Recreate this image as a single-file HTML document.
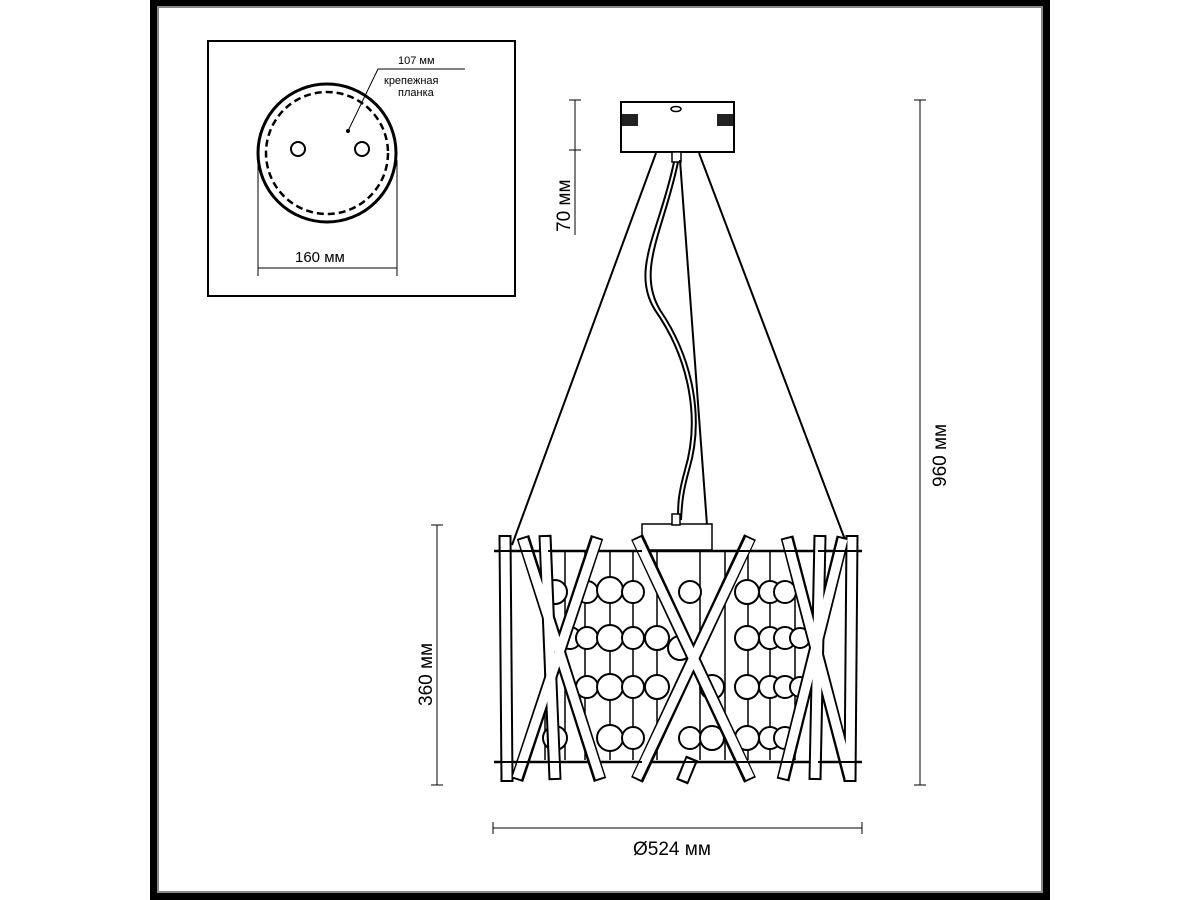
<!DOCTYPE html>
<html><head><meta charset="utf-8"><style>
html,body{margin:0;padding:0;background:#fff;}
svg{display:block;}
text{font-family:"Liberation Sans",sans-serif;fill:#000;}
</style></head><body>
<svg width="1200" height="900" viewBox="0 0 1200 900">
<rect x="0" y="0" width="1200" height="900" fill="#fff"/>
<rect x="150" y="0" width="900" height="900" fill="#000"/>
<rect x="157" y="6" width="886" height="887" fill="#888"/>
<rect x="159" y="8" width="882" height="883" fill="#fff"/>

<!-- inset -->
<rect x="208" y="41" width="307" height="255" fill="none" stroke="#000" stroke-width="2"/>
<circle cx="327" cy="153" r="69" fill="none" stroke="#000" stroke-width="3"/>
<circle cx="327" cy="153" r="61" fill="none" stroke="#000" stroke-width="2.5" stroke-dasharray="7,4"/>
<circle cx="298" cy="149" r="7" fill="none" stroke="#000" stroke-width="2"/>
<circle cx="362" cy="149" r="7" fill="none" stroke="#000" stroke-width="2"/>
<circle cx="348" cy="131" r="2" fill="#000"/>
<polyline points="348,131 378,69 465,69" fill="none" stroke="#000" stroke-width="1"/>
<text x="398" y="64" font-size="11">107 мм</text>
<text x="384" y="84" font-size="11">крепежная</text>
<text x="398" y="96" font-size="11">планка</text>
<line x1="258" y1="160" x2="258" y2="276" stroke="#000" stroke-width="1"/>
<line x1="397" y1="160" x2="397" y2="276" stroke="#000" stroke-width="1"/>
<line x1="258" y1="268" x2="397" y2="268" stroke="#000" stroke-width="1"/>
<text x="295" y="262" font-size="15">160 мм</text>

<!-- dimensions -->
<g stroke="#000" stroke-width="1">
<line x1="575" y1="100" x2="575" y2="235"/><line x1="569" y1="100" x2="581" y2="100"/><line x1="569" y1="150" x2="581" y2="150"/>
<line x1="920" y1="100" x2="920" y2="785"/><line x1="914" y1="100" x2="926" y2="100"/><line x1="914" y1="785" x2="926" y2="785"/>
<line x1="437" y1="525" x2="437" y2="785"/><line x1="431" y1="525" x2="443" y2="525"/><line x1="431" y1="785" x2="443" y2="785"/>
<line x1="493" y1="828" x2="862" y2="828"/><line x1="493" y1="822" x2="493" y2="834"/><line x1="862" y1="822" x2="862" y2="834"/>
</g>
<text font-size="19" transform="translate(570,232) rotate(-90)">70 мм</text>
<text font-size="19" transform="translate(946,487) rotate(-90)">960 мм</text>
<text font-size="19" transform="translate(432,706) rotate(-90)">360 мм</text>
<text x="633" y="855" font-size="19">Ø524 мм</text>

<!-- canopy -->
<rect x="621" y="102" width="113" height="50" fill="#fff" stroke="#000" stroke-width="2"/>
<ellipse cx="676" cy="109" rx="5" ry="2.5" fill="none" stroke="#000" stroke-width="1.5"/>
<rect x="622" y="114" width="16" height="12" fill="#222"/>
<rect x="717" y="114" width="16" height="12" fill="#222"/>
<rect x="672" y="152" width="9" height="10" fill="#fff" stroke="#000" stroke-width="1.5"/>
<g stroke="#000" stroke-width="2" fill="none">
<line x1="656" y1="153" x2="512" y2="545"/>
<line x1="699" y1="153" x2="847" y2="545"/>
<line x1="680" y1="160" x2="707" y2="525"/>
<path d="M674,162 C660,230 630,270 655,310 C690,360 700,420 685,470 C678,495 678,505 678,520"/>
<path d="M678,162 C664,230 636,270 660,310 C694,360 704,420 689,470 C682,495 682,505 681,520"/>
</g>

<!-- body -->
<g stroke="#000" fill="none">
<rect x="642" y="524" width="70" height="26" fill="#fff" stroke-width="1.5"/>
<rect x="672" y="514" width="8" height="11" fill="#fff" stroke-width="1.5"/>
<g stroke-width="1.5">
<line x1="545" y1="552" x2="545" y2="760"/><line x1="565" y1="552" x2="565" y2="760"/>
<line x1="585" y1="552" x2="585" y2="760"/><line x1="610" y1="552" x2="610" y2="760"/>
<line x1="633" y1="552" x2="633" y2="760"/><line x1="657" y1="552" x2="657" y2="760"/>
<line x1="700" y1="552" x2="700" y2="760"/><line x1="725" y1="552" x2="725" y2="760"/>
<line x1="748" y1="552" x2="748" y2="760"/><line x1="770" y1="552" x2="770" y2="760"/>
<line x1="795" y1="552" x2="795" y2="760"/><line x1="815" y1="552" x2="815" y2="760"/>
</g>
<g stroke-width="2" fill="#fff">
<circle cx="555" cy="592" r="12"/><circle cx="587" cy="592" r="11"/><circle cx="610" cy="590" r="13"/><circle cx="633" cy="592" r="11"/><circle cx="690" cy="592" r="11"/><circle cx="747" cy="592" r="12"/><circle cx="770" cy="592" r="11"/><circle cx="785" cy="592" r="11"/>
<circle cx="570" cy="638" r="11"/><circle cx="587" cy="638" r="11"/><circle cx="610" cy="638" r="13"/><circle cx="633" cy="638" r="11"/><circle cx="657" cy="638" r="12"/><circle cx="680" cy="648" r="12"/><circle cx="747" cy="638" r="12"/><circle cx="770" cy="638" r="11"/><circle cx="785" cy="638" r="11"/><circle cx="800" cy="638" r="10"/>
<circle cx="587" cy="687" r="11"/><circle cx="610" cy="687" r="13"/><circle cx="633" cy="687" r="11"/><circle cx="657" cy="687" r="12"/><circle cx="712" cy="687" r="12"/><circle cx="747" cy="687" r="12"/><circle cx="770" cy="687" r="11"/><circle cx="785" cy="687" r="11"/><circle cx="800" cy="687" r="10"/>
<circle cx="555" cy="738" r="12"/><circle cx="610" cy="738" r="13"/><circle cx="633" cy="738" r="11"/><circle cx="690" cy="738" r="11"/><circle cx="712" cy="738" r="12"/><circle cx="747" cy="738" r="12"/><circle cx="770" cy="738" r="11"/><circle cx="785" cy="738" r="11"/>
</g>
<line x1="494" y1="551" x2="862" y2="551" stroke-width="2.5"/>
<line x1="494" y1="762" x2="862" y2="762" stroke-width="2.5"/>
<!-- rods -->
<g stroke-linecap="butt">
<g stroke="#000" stroke-width="13">
<line x1="505" y1="535" x2="507" y2="782"/><line x1="852" y1="535" x2="850" y2="782"/>
<line x1="523" y1="537" x2="600" y2="780"/><line x1="597" y1="537" x2="517" y2="780"/>
<line x1="545" y1="535" x2="555" y2="780"/>
<line x1="637" y1="537" x2="750" y2="780"/><line x1="750" y1="537" x2="637" y2="780"/>
<line x1="787" y1="537" x2="850" y2="780"/><line x1="843" y1="537" x2="783" y2="780"/>
<line x1="820" y1="535" x2="815" y2="780"/>
<line x1="692" y1="758" x2="682" y2="782"/>
</g>
<g stroke="#fff" stroke-width="9">
<line x1="505" y1="537" x2="507" y2="780"/><line x1="852" y1="537" x2="850" y2="780"/>
<line x1="523" y1="539" x2="600" y2="778"/><line x1="597" y1="539" x2="517" y2="778"/>
<line x1="545" y1="537" x2="555" y2="778"/>
<line x1="637" y1="539" x2="750" y2="778"/><line x1="750" y1="539" x2="637" y2="778"/>
<line x1="787" y1="539" x2="850" y2="778"/><line x1="843" y1="539" x2="783" y2="778"/>
<line x1="820" y1="537" x2="815" y2="778"/>
<line x1="691" y1="760" x2="683" y2="780"/>
</g>
</g>
<line x1="494" y1="551" x2="862" y2="551" stroke-width="2" stroke-dasharray="40,14"/>
<line x1="494" y1="762" x2="862" y2="762" stroke-width="2" stroke-dasharray="40,14"/>
</g>
</svg>
</body></html>
